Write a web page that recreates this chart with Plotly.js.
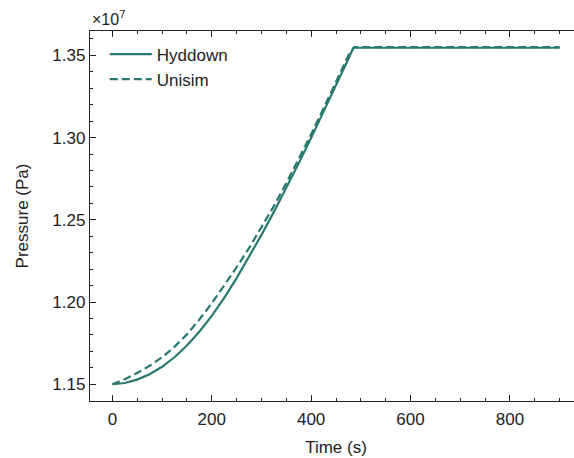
<!DOCTYPE html>
<html>
<head>
<meta charset="utf-8">
<script src="https://cdn.plot.ly/plotly-3.0.1.min.js"></script>
<style>
html,body{margin:0;padding:0;overflow:hidden;background:#fff;width:574px;height:458px;}
#chart{width:582px;height:458px;}
</style>
</head>
<body>
<div id="chart"></div>
<script>
// Time (s)
var timeHyddown = [0, 25, 50, 75, 100, 125, 150, 175, 200, 225, 250, 275, 300, 325, 350, 375, 400, 425, 450, 475, 485, 600, 700, 800, 900];
// Pressure in units of 1e7 Pa
var pressureHyddown = [1.15000, 1.15075, 1.15280, 1.15610, 1.16060, 1.16640, 1.17350, 1.18190, 1.19160, 1.20250, 1.21450, 1.22730, 1.24080, 1.25480, 1.26940, 1.28440, 1.29980, 1.31550, 1.33150, 1.34790, 1.35460, 1.35460, 1.35460, 1.35460, 1.35460];

var timeUnisim = [0, 25, 50, 75, 100, 125, 150, 175, 200, 225, 250, 275, 300, 325, 350, 375, 400, 425, 450, 475, 487, 600, 700, 800, 900];
var pressureUnisim = [1.1500, 1.1530, 1.1568, 1.1612, 1.1664, 1.1727, 1.1803, 1.1893, 1.1992, 1.2098, 1.2210, 1.2328, 1.2452, 1.2583, 1.2723, 1.2870, 1.3020, 1.3178, 1.3339, 1.3500, 1.3550, 1.3550, 1.3550, 1.3550, 1.3550];

var seriesNames = ['Hyddown', 'Unisim'];
var lineColor = '#2a7970';
var textColor = '#222222';
var font = 'Liberation Sans, Arial, sans-serif';

var traces = [
  {x: timeHyddown, y: pressureHyddown, name: seriesNames[0], mode: 'lines',
   line: {color: lineColor, width: 2.2}},
  {x: timeUnisim, y: pressureUnisim, name: seriesNames[1], mode: 'lines',
   line: {color: lineColor, width: 2.2, dash: '8px,4px'}}
];

var axisCommon = {
  showgrid: false, zeroline: false, showline: true, linecolor: '#222', linewidth: 1.2,
  mirror: 'allticks', ticks: 'inside', ticklen: 6, tickwidth: 1, tickcolor: '#222',
  tickfont: {family: font, size: 17, color: textColor}
};

var layout = {
  width: 582, height: 458,
  margin: {l: 90, r: 0, t: 31, b: 57},
  paper_bgcolor: '#fff', plot_bgcolor: '#fff',
  font: {family: font, size: 17, color: textColor},
  showlegend: true,
  legend: {x: 0.03, y: 0.985, xanchor: 'left', yanchor: 'top', bgcolor: 'rgba(0,0,0,0)',
           borderwidth: 0, font: {family: font, size: 17, color: textColor}, itemwidth: 42, tracegroupgap: 0},
  xaxis: Object.assign({}, axisCommon, {
    range: [-45, 945], dtick: 200, tick0: 0, ticklabelstandoff: 2,
    minor: {dtick: 50, ticks: 'inside', ticklen: 3, tickcolor: '#222', tickwidth: 1},
    title: {text: 'Time (s)', font: {family: font, size: 17, color: textColor}, standoff: 13}
  }),
  yaxis: Object.assign({}, axisCommon, {
    range: [1.1398, 1.3648], dtick: 0.05, tick0: 1.15, tickformat: '.2f',
    minor: {dtick: 0.01, ticks: 'inside', ticklen: 3, tickcolor: '#222', tickwidth: 1},
    title: {text: 'Pressure (Pa)', font: {family: font, size: 17, color: textColor}, standoff: 19}
  }),
  annotations: [{
    xref: 'paper', yref: 'paper', x: 0, y: 1, xanchor: 'left', yanchor: 'bottom', yshift: 1,
    text: '×10<sup>7</sup>', showarrow: false, font: {family: font, size: 16, color: textColor}
  }]
};

Plotly.newPlot('chart', traces, layout, {displayModeBar: false, staticPlot: true});
</script>
</body>
</html>
